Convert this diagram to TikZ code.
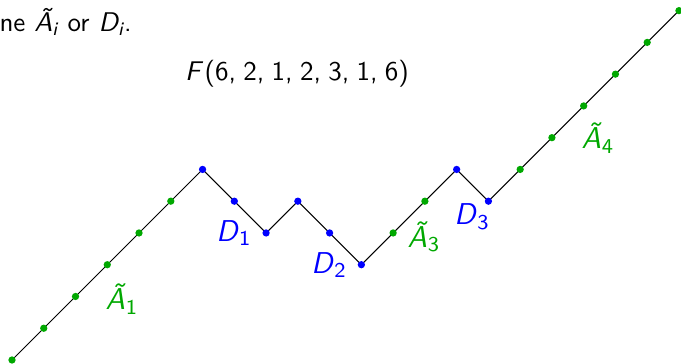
\documentclass[tikz,border=0pt]{standalone}
\definecolor{G}{RGB}{0,168,0}
\definecolor{B}{RGB}{0,0,255}
\newcommand{\tgap}{\hspace{0.27em}}
\tikzset{
  dot/.style={circle, inner sep=0pt, minimum size=2.8pt, draw=none},
  lbl/.style={inner sep=0pt, font=\sffamily\fontsize{11.6}{14}\selectfont},
  path/.style={line width=0.4pt, black},
  txtstyle/.style={inner sep=0pt, font=\sffamily\fontsize{10.4}{12.5}\selectfont},
}
\begin{document}
\begin{tikzpicture}[x=0.385pt, y=-0.385pt]
\useasboundingbox (0,0) rectangle (681,364);
\clip (0,0) rectangle (681,364);
% path vertices
\foreach \h [count=\i from 0] in {0,1,2,3,4,5,6,5,4,5,4,3,4,5,6,5,6,7,8,9,10,11}
  \coordinate (p\i) at ({12+31.76*\i},{360-31.76*\h});
\draw[path] (p0) \foreach \i in {1,...,21}{ -- (p\i)};
\foreach \i/\c in {0/G,1/G,2/G,3/G,4/G,5/G,6/B,7/B,8/B,9/B,10/B,11/B,12/G,13/G,14/B,15/B,16/G,17/G,18/G,19/G,20/G,21/G}
  \node[dot, fill=\c] (d\i) at (p\i) {};
% labels
\node[lbl, text=G] (a1) at (122,299) {\textit{\~A}\textsubscript{1}};
\node[lbl, text=B] (l1) at (234,233) {\textit{D}\textsubscript{1}};
\node[lbl, text=B] (l2) at (329,265) {\textit{D}\textsubscript{2}};
\node[lbl, text=G] (a3) at (424,237) {\textit{\~A}\textsubscript{3}};
\node[lbl, text=B] (l3) at (472,217) {\textit{D}\textsubscript{3}};
\node[lbl, text=G] (a4) at (598,138) {\textit{\~A}\textsubscript{4}};
% title
\node[txtstyle] (title) at (297,74) {\textit{F}\kern0.05em(6,\tgap 2,\tgap 1,\tgap 2,\tgap 3,\tgap 1,\tgap 6)};
% clipped text line
\node[txtstyle, anchor=base west] (txt) at (-1,32) {ne \textit{\~A\textsubscript{i}} or \textit{D\textsubscript{i}}.};
\end{tikzpicture}
\end{document}
